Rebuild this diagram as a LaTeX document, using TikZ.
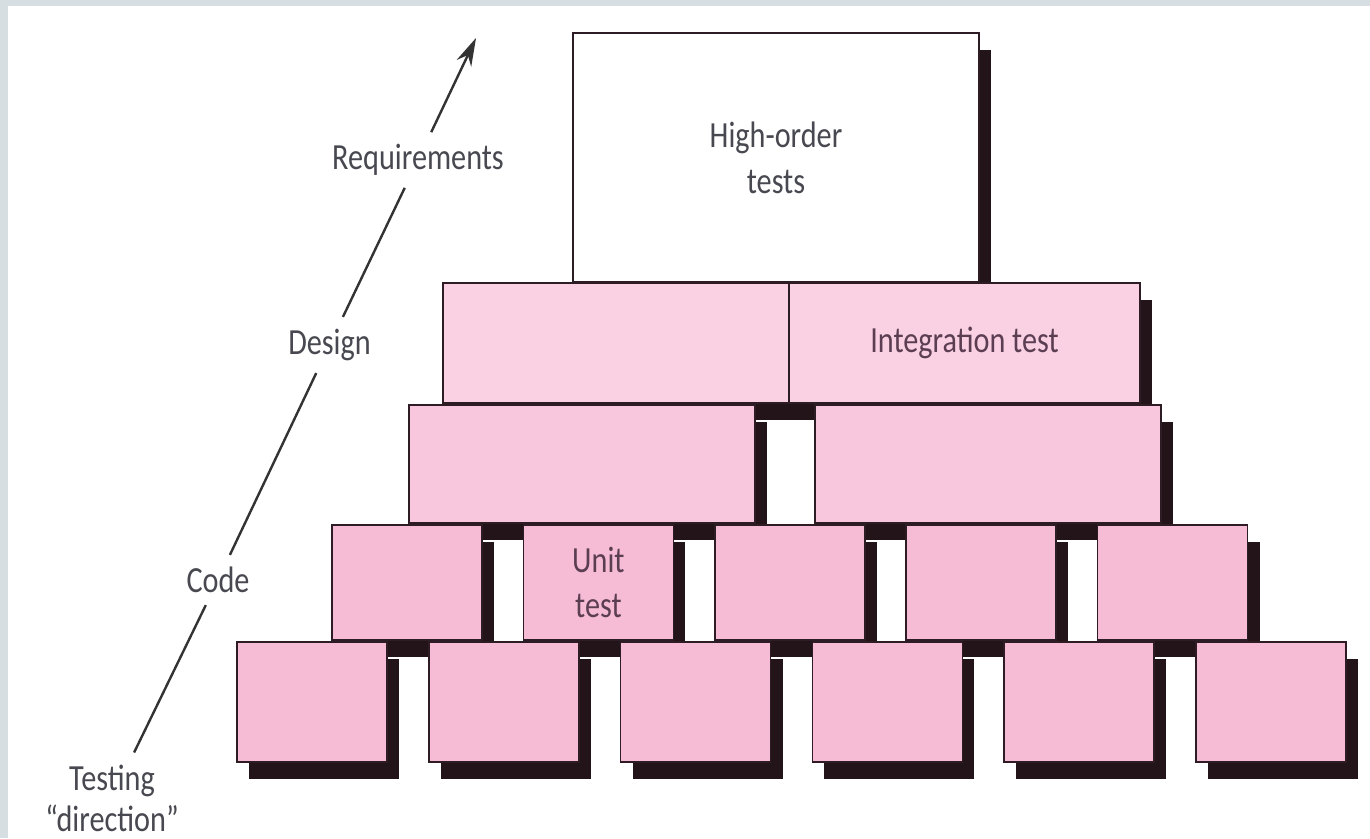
\documentclass[tikz,border=0pt]{standalone}
\usepackage{fontspec}
\setmainfont{Carlito}[FakeStretch=0.82]
\usetikzlibrary{arrows.meta,shadows}
\definecolor{framegray}{RGB}{215,222,225}
\definecolor{brickA}{RGB}{250,208,227}
\definecolor{brickB}{RGB}{248,199,221}
\definecolor{brickC}{RGB}{246,188,213}
\definecolor{brickedge}{RGB}{45,28,35}
\definecolor{brickshade}{RGB}{35,20,26}
\definecolor{labelgray}{RGB}{72,72,80}
\definecolor{bricktext}{RGB}{92,62,82}
\tikzset{
  brick/.style={draw=brickedge, line width=1.6bp, inner sep=0pt, text=bricktext, align=center,
    drop shadow={shadow xshift=12bp, shadow yshift=-17bp, fill=brickshade, opacity=1}},
  stage/.style={fill=white, inner sep=12bp, text=labelgray, align=center}
}
\begin{document}
\begin{tikzpicture}[x=1bp, y=-1bp, font=\fontsize{37}{46}\selectfont]
    \useasboundingbox (0,0) rectangle (1370,838);
    \fill[framegray] (0,0) rectangle (1370,838);
    \fill[white] (8,6) rectangle (1370,838);
    % high-order level
    \node[brick, fill=white, text=labelgray, minimum width=406bp, minimum height=249bp] (hot) at (776,157.5) {High-order\\tests};
    % integration levels
    \node[brick, fill=brickA, minimum width=346bp, minimum height=120bp] (int1) at (616,343) {};
    \node[brick, fill=brickA, minimum width=351bp, minimum height=120bp] (int2) at (964.5,343) {Integration test};
    \node[brick, fill=brickB, minimum width=346bp, minimum height=118bp] (int3) at (582,464) {};
    \node[brick, fill=brickB, minimum width=346bp, minimum height=118bp] (int4) at (988,464) {};
    % unit levels
    \foreach \i/\txt in {1/{},2/{Unit\\test},3/{},4/{},5/{}}
        \node[brick, fill=brickC, minimum width=150bp, minimum height=115bp] (unit\i) at ({407+191.4*(\i-1)},582.5) {\txt};
    \foreach \i in {1,...,6}
        \node[brick, fill=brickC, minimum width=150bp, minimum height=120bp] (mod\i) at ({312+191.8*(\i-1)},702) {};
    % testing direction
    \coordinate (tip) at (476,38);
    \node[stage] (req) at (418,160) {Requirements};
    \node[stage] (design) at (329.5,345) {Design};
    \node[stage] (code) at (218,580) {Code};
    \node[stage, font=\fontsize{37}{41}\selectfont] (testing) at (112,798) {Testing\\“direction”};
    \draw[black!80, line width=2.4bp] (testing) -- (code) (code) -- (design) (design) -- (req);
    \draw[black!80, line width=2.4bp, -{Stealth[length=28bp,width=16bp]}] (req) -- (tip);
\end{tikzpicture}
\end{document}
